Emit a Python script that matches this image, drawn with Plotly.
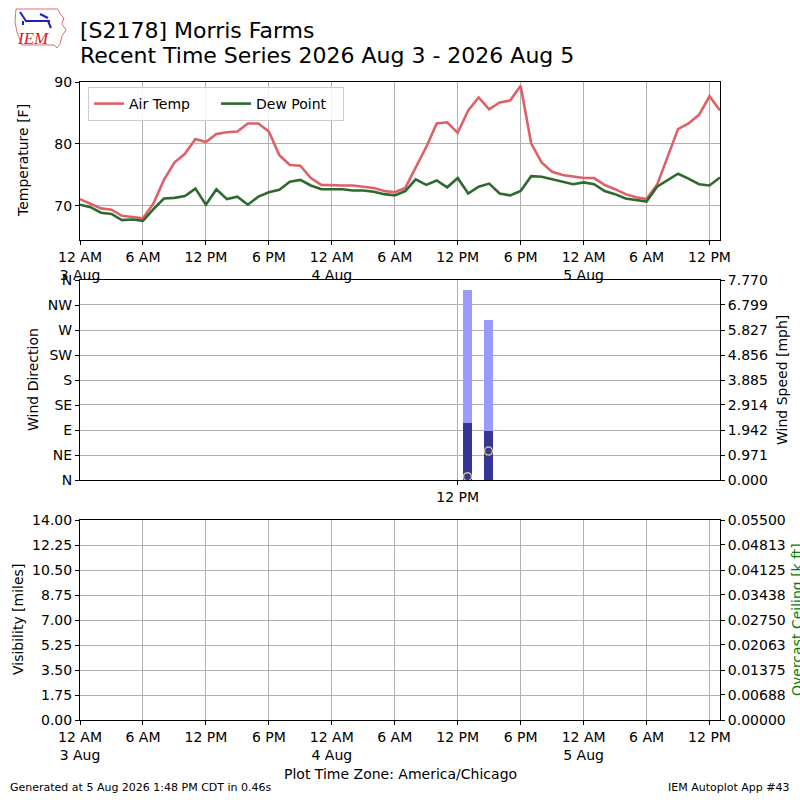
import plotly.graph_objects as go
import pandas as pd

# ---------------- data ----------------
start_time = "2026-08-03 00:00"
air_temp = [71.1, 70.4, 69.6, 69.4, 68.4, 68.2, 68.0, 70.4, 74.2, 77.0,
            78.4, 80.8, 80.3, 81.6, 81.9, 82.0, 83.3, 83.3, 82.0, 78.2,
            76.6, 76.5, 74.5, 73.4, 73.3, 73.3, 73.3, 73.1, 72.9, 72.4,
            72.2, 72.9, 76.2, 79.5, 83.3, 83.5, 81.8, 85.4, 87.5, 85.6,
            86.7, 87.0, 89.4, 80.1, 77.0, 75.5, 75.0, 74.7, 74.5, 74.5,
            73.4, 72.7, 71.9, 71.4, 71.1, 73.4, 77.9, 82.4, 83.3, 84.7,
            87.7, 85.4]
dew_point = [70.2, 69.8, 68.9, 68.7, 67.7, 67.8, 67.6, 69.5, 71.2, 71.3,
             71.6, 72.8, 70.2, 72.7, 71.1, 71.5, 70.2, 71.5, 72.2, 72.6,
             73.9, 74.2, 73.3, 72.7, 72.7, 72.7, 72.5, 72.5, 72.3, 71.9,
             71.7, 72.4, 74.3, 73.4, 74.1, 73.0, 74.5, 72.0, 73.1, 73.6,
             72.0, 71.7, 72.4, 74.8, 74.7, 74.3, 73.8, 73.5, 73.8, 73.5,
             72.4, 71.9, 71.2, 71.0, 70.7, 73.1, 74.2, 75.2, 74.4, 73.5,
             73.3, 74.6]
times = pd.date_range(start_time, periods=len(air_temp), freq="h")

wind_times = ["2026-08-04 12:56", "2026-08-04 14:56"]
wind_speed = [2.21, 1.92]
wind_gust = [7.38, 6.22]
wind_dir = [6, 52]

x_range = ["2026-08-03 00:00", "2026-08-05 13:00"]
time_ticks = ["2026-08-03 00:00", "2026-08-03 06:00", "2026-08-03 12:00", "2026-08-03 18:00",
              "2026-08-04 00:00", "2026-08-04 06:00", "2026-08-04 12:00", "2026-08-04 18:00",
              "2026-08-05 00:00", "2026-08-05 06:00", "2026-08-05 12:00"]
time_labels = ["12 AM<br>3 Aug", "6 AM", "12 PM", "6 PM", "12 AM<br>4 Aug", "6 AM",
               "12 PM", "6 PM", "12 AM<br>5 Aug", "6 AM", "12 PM"]
mid_ticks = ["2026-08-04 12:00"]
mid_labels = ["12 PM"]

dir_ticks = [0, 45, 90, 135, 180, 225, 270, 315, 360]
dir_labels = ["N", "NE", "E", "SE", "S", "SW", "W", "NW", "N"]
speed_labels = ["0.000", "0.971", "1.942", "2.914", "3.885", "4.856", "5.827", "6.799", "7.770"]
vis_labels = ["0.00", "1.75", "3.50", "5.25", "7.00", "8.75", "10.50", "12.25", "14.00"]
ceil_labels = ["0.00000", "0.00688", "0.01375", "0.02063", "0.02750",
               "0.03438", "0.04125", "0.04813", "0.05500"]

# ---------------- style ----------------
AIR = "#df6068"
DEW = "#2e6a30"
GUST = "#9b9bff"
SPD = "#363699"
GRID = "#b0b0b0"
FONT = "DejaVu Sans"

W, H = 800, 800
ML, MR, MT, MB = 80, 80, 82, 80
PW, PH = W - ML - MR, H - MT - MB


def px(X):
    return (X - ML) / PW


def py(Y):
    return (H - MB - Y) / PH


fig = go.Figure()
fig.add_trace(go.Scatter(x=times, y=air_temp, mode="lines", name="Air Temp",
                         line=dict(color=AIR, width=2.6), xaxis="x", yaxis="y"))
fig.add_trace(go.Scatter(x=times, y=dew_point, mode="lines", name="Dew Point",
                         line=dict(color=DEW, width=2.6), xaxis="x", yaxis="y"))

bar_w = 0.92 * 3600 * 1000
# speed axis is the base (y2, right side); direction axis overlays it (y3, left)
fig.add_trace(go.Bar(x=wind_times, y=wind_gust, width=bar_w, marker=dict(color=GUST, line=dict(width=0)),
                     showlegend=False, xaxis="x2", yaxis="y2"))
fig.add_trace(go.Bar(x=wind_times, y=wind_speed, width=bar_w, marker=dict(color=SPD, line=dict(width=0)),
                     showlegend=False, xaxis="x2", yaxis="y2"))
fig.add_trace(go.Scatter(x=wind_times, y=wind_dir, mode="markers", showlegend=False,
                         marker=dict(symbol="circle-open", size=8, color="#c9c27a", line=dict(width=1.5)),
                         xaxis="x2", yaxis="y3", cliponaxis=False))
fig.add_trace(go.Scatter(x=[], y=[], showlegend=False, xaxis="x3", yaxis="y4"))
fig.add_trace(go.Scatter(x=[], y=[], showlegend=False, xaxis="x3", yaxis="y5"))

tickfont = dict(family=FONT, size=14, color="black")
common_x = dict(type="date", range=x_range, showline=True, linecolor="black", linewidth=1,
                mirror=True, ticks="outside", ticklen=4, tickcolor="black",
                showgrid=True, gridcolor=GRID, gridwidth=1, tickfont=tickfont, zeroline=False)
common_y = dict(showline=True, linecolor="black", linewidth=1, mirror=True, ticks="outside",
                ticklen=4, tickcolor="black", showgrid=True, gridcolor=GRID, gridwidth=1,
                tickfont=tickfont, zeroline=False, automargin=False)

fig.update_layout(
    width=W, height=H, margin=dict(l=ML, r=MR, t=MT, b=MB, autoexpand=False),
    paper_bgcolor="white", plot_bgcolor="white",
    font=dict(family=FONT, size=14, color="black"),
    barmode="overlay", bargap=0,
    xaxis=dict(common_x, domain=[0, 1], anchor="y", tickvals=time_ticks, ticktext=time_labels),
    yaxis=dict(common_y, domain=[py(240), py(82)], range=[64.5, 90], tickvals=[70, 80, 90]),
    xaxis2=dict(common_x, domain=[0, 1], anchor="y2", tickvals=mid_ticks, ticktext=mid_labels),
    yaxis2=dict(common_y, domain=[py(480), py(280)], side="right", anchor="x2", range=[0, 7.77],
                tickvals=[float(t) for t in speed_labels], ticktext=speed_labels, mirror=False),
    yaxis3=dict(common_y, overlaying="y2", side="left", anchor="x2", range=[0, 360],
                tickvals=dir_ticks, ticktext=dir_labels, showgrid=False, mirror=False),
    xaxis3=dict(common_x, domain=[0, 1], anchor="y4", tickvals=time_ticks, ticktext=time_labels),
    yaxis4=dict(common_y, domain=[py(720), py(520)], range=[0, 14], anchor="x3", mirror=False,
                tickvals=[float(t) for t in vis_labels], ticktext=vis_labels),
    yaxis5=dict(common_y, overlaying="y4", side="right", anchor="x3", range=[0, 0.055],
                tickvals=[float(t) for t in ceil_labels], ticktext=ceil_labels,
                showgrid=False, mirror=False),
    legend=dict(x=px(88), y=py(87), xanchor="left", yanchor="top", orientation="h",
                bordercolor="#cccccc", borderwidth=1, bgcolor="rgba(255,255,255,0.85)",
                font=dict(family=FONT, size=14), itemwidth=30, tracegroupgap=0,
                entrywidth=82, entrywidthmode="pixels"),
)

ann = []


def add_text(text, X, Y, size=14, xanchor="center", angle=0, color="black", **kw):
    ann.append(dict(text=text, x=px(X), y=py(Y), xref="paper", yref="paper",
                    xanchor=xanchor, yanchor="middle", showarrow=False, textangle=angle,
                    font=dict(family=FONT, size=size, color=color), **kw))


add_text("[S2178] Morris Farms", 78, 30, size=22, xanchor="left")
add_text("Recent Time Series 2026 Aug 3 - 2026 Aug 5", 78, 56, size=22, xanchor="left")
add_text("Temperature [F]", 23, 161, angle=-90)
add_text("Wind Direction", 33, 380, angle=-90)
add_text("Wind Speed [mph]", 782, 380, angle=-90)
add_text("Visibility [miles]", 18, 620, angle=-90)
add_text("Overcast Ceiling [k ft]", 797, 620, angle=-90, color="green")
add_text("Plot Time Zone: America/Chicago", 400, 774, size=14)
add_text("Generated at 5 Aug 2026 1:48 PM CDT in 0.46s", 8, 788, size=11, xanchor="left")
add_text("IEM Autoplot App #43", 792, 788, size=11, xanchor="right")
ann.append(dict(text="IEM", x=px(33), y=py(38), xref="paper", yref="paper", showarrow=False,
                xanchor="center", yanchor="middle",
                font=dict(family="Liberation Serif", size=17, color="#d42020", style="italic")))
fig.update_layout(annotations=ann)

# IEM logo outline (decorative)
iowa = [(16, 9), (58, 9), (60, 14), (64, 18), (62, 24), (66, 30), (62, 36), (60, 44),
        (57, 48), (54, 45), (22, 45), (20, 40), (17, 32), (15, 22), (16, 9)]
path = "M " + " L ".join(f"{px(a)},{py(b)}" for a, b in iowa) + " Z"
shapes = [dict(type="path", path=path, xref="paper", yref="paper",
               line=dict(color="#e07070", width=1))]
blue_lines = [((25, 21), (50, 21)), ((20, 12), (26, 21)), ((40, 14), (48, 18)),
              ((48, 21), (51, 28)), ((23, 21), (23, 25))]
for (a, b), (c, d) in blue_lines:
    shapes.append(dict(type="line", xref="paper", yref="paper", x0=px(a), y0=py(b),
                       x1=px(c), y1=py(d), line=dict(color="#2020c0", width=2)))
fig.update_layout(shapes=shapes)

fig.write_html("out.html", config={"displayModeBar": False},
               post_script="document.body.style.margin='0';document.body.style.padding='0';")
